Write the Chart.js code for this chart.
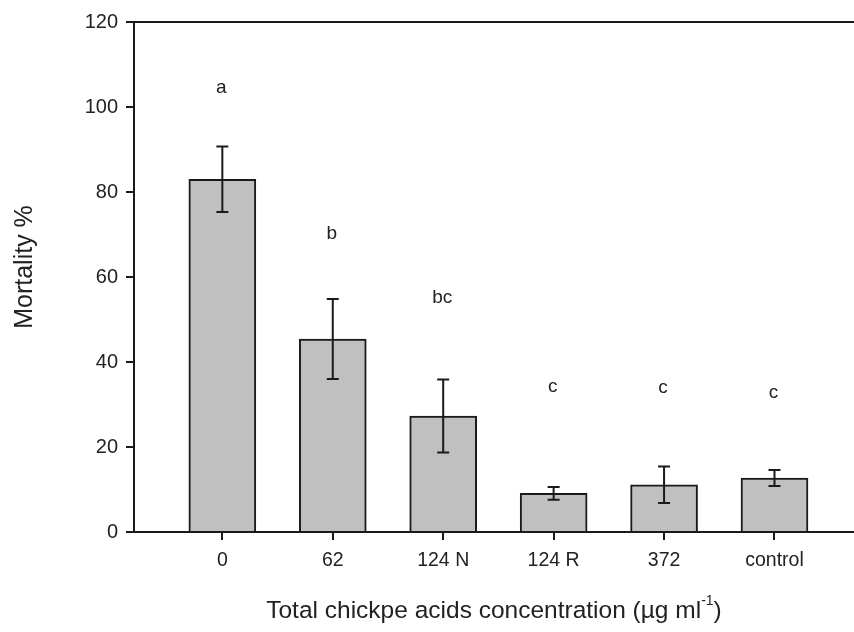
<!DOCTYPE html>
<html>
<head>
<meta charset="utf-8">
<script src="https://cdn.jsdelivr.net/npm/chart.js@4.4.1/dist/chart.umd.min.js"></script>
<style>
  html, body { margin: 0; padding: 0; background: #fff; overflow: hidden; }
  #wrap { width: 854px; height: 632px; }
</style>
</head>
<body>
<div id="wrap"><canvas id="myChart" width="854" height="632"></canvas></div>
<script>
// data
var categories = ['0', '62', '124 N', '124 R', '372', 'control'];
var mortality = [83.0, 45.4, 27.3, 9.1, 11.1, 12.7];
var errors = [7.7, 9.4, 8.6, 1.5, 4.3, 1.9];
var letters = ['a', 'b', 'bc', 'c', 'c', 'c'];
var letterPos = [104.5, 70.2, 55.0, 34.2, 33.9, 32.7];
var yTicks = [0, 20, 40, 60, 80, 100, 120];

var FONT = 'Liberation Sans, Arial, sans-serif';

// error bars, significance letters, frame and axis titles
var extras = {
    id: 'extras',
    afterDatasetsDraw: function (chart) {
        var ctx = chart.ctx;
        var x = chart.scales.x, y = chart.scales.y;
        var area = chart.chartArea;
        ctx.save();
        ctx.strokeStyle = '#1a1a1a';
        ctx.lineWidth = 2;
        for (var i = 0; i < mortality.length; i++) {
            var px = x.getPixelForValue(i);
            var top = y.getPixelForValue(mortality[i] + errors[i]);
            var bot = y.getPixelForValue(mortality[i] - errors[i]);
            ctx.beginPath();
            ctx.moveTo(px, top); ctx.lineTo(px, bot);
            ctx.moveTo(px - 6, top); ctx.lineTo(px + 6, top);
            ctx.moveTo(px - 6, bot); ctx.lineTo(px + 6, bot);
            ctx.stroke();
        }
        ctx.fillStyle = '#222';
        ctx.font = '19px ' + FONT;
        ctx.textAlign = 'center';
        ctx.textBaseline = 'middle';
        for (var j = 0; j < letters.length; j++) {
            ctx.fillText(letters[j], x.getPixelForValue(j) - 1, y.getPixelForValue(letterPos[j]));
        }
        // top frame line and extended baseline
        ctx.lineWidth = 2;
        ctx.beginPath();
        ctx.moveTo(area.left, area.top); ctx.lineTo(area.right, area.top);
        ctx.moveTo(area.left - 8, area.bottom); ctx.lineTo(area.right, area.bottom);
        ctx.stroke();

        // y axis title
        ctx.save();
        ctx.translate(25, 267);
        ctx.rotate(-Math.PI / 2);
        ctx.font = '25px ' + FONT;
        ctx.fillText('Mortality %', 0, 0);
        ctx.restore();

        // x axis title with superscript
        var t1 = 'Total chickpe acids concentration (\u00b5g ml';
        var sup = '-1';
        var t2 = ')';
        var big = '24.5px ' + FONT, small = '14px ' + FONT;
        ctx.font = big; var w1 = ctx.measureText(t1).width; var w3 = ctx.measureText(t2).width;
        ctx.font = small; var w2 = ctx.measureText(sup).width;
        var cx = 494, cy = 611;
        var sx = cx - (w1 + w2 + w3) / 2;
        ctx.textAlign = 'left';
        ctx.textBaseline = 'middle';
        ctx.font = big; ctx.fillText(t1, sx, cy);
        ctx.font = small; ctx.fillText(sup, sx + w1, cy - 10);
        ctx.font = big; ctx.fillText(t2, sx + w1 + w2, cy);
        ctx.restore();
    }
};

var ctx = document.getElementById('myChart').getContext('2d');
var chart = new Chart(ctx, {
    type: 'bar',
    data: {
        datasets: [{
            label: 'Mortality %',
            data: mortality.map(function (v, i) { return { x: i, y: v }; }),
            backgroundColor: '#c0c0c0',
            borderColor: '#1a1a1a',
            borderWidth: 2,
            barThickness: 67
        }]
    },
    options: {
        responsive: false,
        animation: false,
        layout: { padding: { top: 22, right: 0, left: 0, bottom: 0 } },
        plugins: { legend: { display: false }, tooltip: { enabled: false } },
        scales: {
            x: {
                type: 'linear',
                offset: false,
                min: -0.8,
                max: 5.72,
                afterBuildTicks: function (scale) {
                    scale.ticks = categories.map(function (_, i) { return { value: i }; });
                },
                afterFit: function (scale) { scale.height = 100; },
                ticks: {
                    autoSkip: false,
                    maxRotation: 0,
                    padding: 9,
                    color: '#222',
                    font: { family: FONT, size: 19.5 },
                    callback: function (v) { return categories[v]; }
                },
                grid: { offset: false, drawOnChartArea: false, tickLength: 8, color: '#1a1a1a', lineWidth: 2 },
                border: { color: '#1a1a1a', width: 2 }
            },
            y: {
                min: 0,
                max: 120,
                afterBuildTicks: function (scale) {
                    scale.ticks = yTicks.map(function (v) { return { value: v }; });
                },
                afterFit: function (scale) { scale.width = 134; },
                ticks: {
                    padding: 8,
                    color: '#222',
                    font: { family: FONT, size: 20 }
                },
                grid: { drawOnChartArea: false, tickLength: 8, color: '#1a1a1a', lineWidth: 2 },
                border: { color: '#1a1a1a', width: 2 }
            }
        }
    },
    plugins: [extras]
});
</script>
</body>
</html>
